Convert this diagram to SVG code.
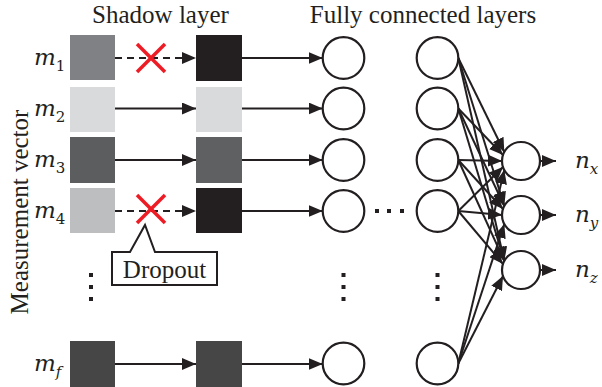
<svg xmlns="http://www.w3.org/2000/svg" width="602" height="387" viewBox="0 0 602 387">
<style>
.t{font-family:"Liberation Serif","Times New Roman",serif;font-size:25px;fill:#231f20}
.m{font-family:"DejaVu Serif",serif;font-style:italic;font-size:23px;fill:#231f20}
.sub{font-size:15px}
.up{font-style:normal}
.c{fill:#fff;stroke:#231f20;stroke-width:2.2}
.ar{stroke:#231f20;stroke-width:2;fill:none;marker-end:url(#ah)}
.dash{stroke-dasharray:7 5}
.x{stroke:#ed1c24;stroke-width:3.5;fill:none}
.dot{fill:#231f20}
</style>
<defs>
<marker id="ah" markerUnits="userSpaceOnUse" markerWidth="14" markerHeight="12" refX="14" refY="6" orient="auto">
<path d="M0,0 L14,6 L0,12 z" fill="#231f20"/>
</marker>
</defs>
<rect width="602" height="387" fill="#fff"/>

<text class="t" x="160.5" y="23" text-anchor="middle">Shadow layer</text>
<text class="t" x="423" y="23" text-anchor="middle">Fully connected layers</text>
<text class="t" transform="translate(28,212) rotate(-90)" text-anchor="middle">Measurement vector</text>

<g id="connectors">
<line class="ar dash" x1="115" y1="58" x2="196" y2="58"/>
<line class="ar" x1="115" y1="108.5" x2="196" y2="108.5"/>
<line class="ar" x1="115" y1="160" x2="196" y2="160"/>
<line class="ar dash" x1="115" y1="211" x2="196" y2="211"/>
<line class="ar" x1="115" y1="364" x2="196" y2="364"/>

<line class="ar" x1="242" y1="58" x2="322.7" y2="58"/>
<line class="ar" x1="242" y1="108.5" x2="322.7" y2="108.5"/>
<line class="ar" x1="242" y1="160" x2="322.7" y2="160"/>
<line class="ar" x1="242" y1="211" x2="322.7" y2="211"/>
<line class="ar" x1="242" y1="364" x2="322.7" y2="364"/>

<line class="ar" x1="458.3" y1="58" x2="504.3" y2="152"/>
<line class="ar" x1="458.3" y1="58" x2="504.3" y2="206"/>
<line class="ar" x1="458.3" y1="58" x2="504.3" y2="261"/>
<line class="ar" x1="458.3" y1="108.5" x2="503" y2="155"/>
<line class="ar" x1="458.3" y1="108.5" x2="504.3" y2="206"/>
<line class="ar" x1="458.3" y1="108.5" x2="504.3" y2="261"/>
<line class="ar" x1="458.3" y1="160" x2="502" y2="161"/>
<line class="ar" x1="458.3" y1="160" x2="503" y2="209"/>
<line class="ar" x1="458.3" y1="160" x2="504.3" y2="261"/>
<line class="ar" x1="458.3" y1="211" x2="503" y2="167"/>
<line class="ar" x1="458.3" y1="211" x2="502" y2="215"/>
<line class="ar" x1="458.3" y1="211" x2="503" y2="264"/>
<line class="ar" x1="458.3" y1="363.5" x2="504.3" y2="170"/>
<line class="ar" x1="458.3" y1="363.5" x2="504.3" y2="224"/>
<line class="ar" x1="458.3" y1="363.5" x2="503" y2="276"/>

<line class="ar" x1="540" y1="161" x2="556" y2="161"/>
<line class="ar" x1="540" y1="215" x2="556" y2="215"/>
<line class="ar" x1="540" y1="270" x2="556" y2="270"/>
</g>

<g id="input-m1">
<rect x="70" y="35" width="45" height="45" fill="#808184"/>
<text class="m" x="34" y="65">m<tspan class="sub up" dy="6">1</tspan></text>
</g>
<g id="input-m2">
<rect x="70" y="87" width="45" height="45" fill="#d9dadb"/>
<text class="m" x="34" y="115.5">m<tspan class="sub up" dy="6">2</tspan></text>
</g>
<g id="input-m3">
<rect x="70" y="137" width="45" height="46" fill="#5c5d5f"/>
<text class="m" x="34" y="167">m<tspan class="sub up" dy="6">3</tspan></text>
</g>
<g id="input-m4">
<rect x="70" y="188" width="45" height="45" fill="#bdbec0"/>
<text class="m" x="34" y="218">m<tspan class="sub up" dy="6">4</tspan></text>
</g>
<g id="input-mf">
<rect x="70" y="341" width="45" height="46" fill="#464646"/>
<text class="m" x="34" y="371">m<tspan class="sub" dy="6">f</tspan></text>
</g>
<g id="input-dots">
<rect class="dot" x="89" y="273" width="4" height="4"/>
<rect class="dot" x="89" y="285" width="4" height="4"/>
<rect class="dot" x="89" y="297" width="4" height="4"/>
</g>

<g id="shadow-1"><rect x="196" y="35" width="46" height="46" fill="#231f20"/></g>
<g id="shadow-2"><rect x="196" y="87" width="46" height="45" fill="#d9dadb"/></g>
<g id="shadow-3"><rect x="196" y="137" width="46" height="46" fill="#5f6062"/></g>
<g id="shadow-4"><rect x="196" y="188" width="46" height="45" fill="#231f20"/></g>
<g id="shadow-f"><rect x="196" y="341" width="46" height="46" fill="#464646"/></g>

<g id="dropout-x1">
<line class="x" x1="137" y1="44" x2="165" y2="72"/>
<line class="x" x1="165" y1="44" x2="137" y2="72"/>
</g>
<g id="dropout-x4">
<line class="x" x1="137" y1="195" x2="165" y2="223"/>
<line class="x" x1="165" y1="195" x2="137" y2="223"/>
</g>
<g id="dropout-callout">
<path d="M112,252 H130 L145,225 L155,252 H217 V285 H112 Z" fill="#fff" stroke="#231f20" stroke-width="2"/>
<text class="t" x="164.5" y="278" text-anchor="middle">Dropout</text>
</g>

<g id="fc1">
<circle class="c" cx="343.5" cy="58" r="20.8"/>
<circle class="c" cx="343.5" cy="108.5" r="20.8"/>
<circle class="c" cx="343.5" cy="160" r="20.8"/>
<circle class="c" cx="343.5" cy="211" r="20.8"/>
<circle class="c" cx="343.5" cy="363.5" r="20.8"/>
<rect class="dot" x="341.5" y="273" width="4" height="4"/>
<rect class="dot" x="341.5" y="285" width="4" height="4"/>
<rect class="dot" x="341.5" y="297" width="4" height="4"/>
</g>
<g id="fc-hdots">
<rect class="dot" x="375" y="209" width="4" height="4"/>
<rect class="dot" x="387" y="209" width="4" height="4"/>
<rect class="dot" x="400" y="209" width="4" height="4"/>
</g>
<g id="fc2">
<circle class="c" cx="437.5" cy="58" r="20.8"/>
<circle class="c" cx="437.5" cy="108.5" r="20.8"/>
<circle class="c" cx="437.5" cy="160" r="20.8"/>
<circle class="c" cx="437.5" cy="211" r="20.8"/>
<circle class="c" cx="437.5" cy="363.5" r="20.8"/>
<rect class="dot" x="435.5" y="273" width="4" height="4"/>
<rect class="dot" x="435.5" y="285" width="4" height="4"/>
<rect class="dot" x="435.5" y="297" width="4" height="4"/>
</g>

<g id="out-nx">
<circle class="c" cx="521" cy="161" r="19"/>
<text class="m" x="575" y="168">n<tspan class="sub" dy="6">x</tspan></text>
</g>
<g id="out-ny">
<circle class="c" cx="521" cy="215" r="19"/>
<text class="m" x="575" y="222">n<tspan class="sub" dy="6">y</tspan></text>
</g>
<g id="out-nz">
<circle class="c" cx="521" cy="270" r="19"/>
<text class="m" x="575" y="277">n<tspan class="sub" dy="6">z</tspan></text>
</g>
</svg>
